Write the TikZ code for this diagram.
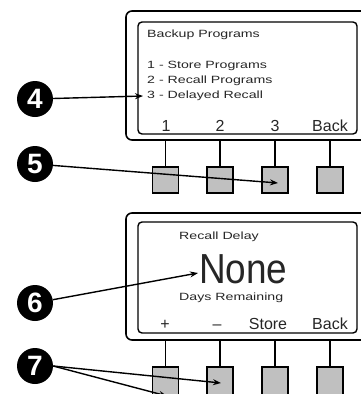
\documentclass[tikz,border=0pt]{standalone}
\usepackage{fontspec}
\usepackage{xcolor}
\usepackage{tikz}
\usetikzlibrary{arrows.meta}
\setmainfont{Liberation Sans}
\newfontfamily\lcdfont[FakeStretch=1.35]{Liberation Sans}
\newfontfamily\bigfont[FakeStretch=0.88]{Liberation Sans}
\definecolor{KeyGray}{HTML}{C0C0C0}
\definecolor{LcdInk}{HTML}{262626}
\tikzset{
  callout/.style={circle,fill=black,inner sep=0pt,minimum size=36pt,text=white,
    font=\fontsize{28}{28}\selectfont\bfseries},
  pointer/.style={line width=1.4pt,-{Stealth[length=8pt,width=6pt]}},
  keypad/.style={draw,line width=1.2pt,fill=KeyGray,minimum width=26pt,minimum height=26pt,inner sep=0pt},
  lcdtext/.style={anchor=base west,inner sep=0pt,text=LcdInk,font=\lcdfont\fontsize{10.5}{10.5}\selectfont},
  softkey/.style={anchor=base,inner sep=0pt,text=LcdInk,font=\fontsize{16}{16}\selectfont},
}

\begin{document}
\begin{tikzpicture}[x=1pt,y=-1pt]
\path[use as bounding box] (0,0) rectangle (361,394);
\clip (0,0) rectangle (361,394);
% upper display
\draw[line width=1.6pt,rounded corners=6pt] (126,11) rectangle (370,140);
\draw[line width=1.4pt,rounded corners=4pt] (138,22) rectangle (357,134);
\node[lcdtext] (title) at (147,37) {Backup Programs};
\node[lcdtext] (item1) at (147,68) {1 - Store Programs};
\node[lcdtext] (item2) at (147,83) {2 - Recall Programs};
\node[lcdtext] (item3) at (147,98) {3 - Delayed Recall};
\node[softkey] (s1) at (166,131) {1};
\node[softkey] (s2) at (220,131) {2};
\node[softkey] (s3) at (275,131) {3};
\node[softkey] (s4) at (330,131) {Back};
% upper keys
\foreach \k/\x in {1/165.5,2/220,3/275,4/330}{
  \node[keypad] (kT\k) at (\x,180) {};
  \draw[line width=1.2pt] (\x,140) -- (kT\k.north);
}
% lower display
\draw[line width=1.6pt,rounded corners=6pt] (126,213) rectangle (370,340);
\draw[line width=1.4pt,rounded corners=4pt] (138,222) rectangle (357,333);
\node[lcdtext] (head) at (179,239) {Recall Delay};
\node[anchor=base west,inner sep=0pt,text=LcdInk,font=\bigfont\fontsize{42}{42}\selectfont] (none) at (199,283) {None};
\node[lcdtext] (days) at (179,300) {Days Remaining};
\node[softkey] (p1) at (165,329) {+};
\node[softkey] (p2) at (217,329) {--};
\node[softkey] (p3) at (268,329) {Store};
\node[softkey] (p4) at (330,329) {Back};
% lower keys
\foreach \k/\x in {1/165.5,2/220,3/275,4/330}{
  \node[keypad,minimum height=34pt] (kB\k) at (\x,384) {};
  \draw[line width=1.2pt] (\x,340) -- (kB\k.north);
}
% callouts
\node[callout] (c4) at (35,99) {4};
\node[callout] (c5) at (35,164) {5};
\node[callout] (c6) at (35,303) {6};
\node[callout] (c7) at (35,366) {7};
\coordinate (t4) at (143,96);
\coordinate (t5) at (278,183);
\coordinate (t6) at (198,273);
\coordinate (t7a) at (221,383);
\coordinate (t7b) at (167,396);
\draw[pointer] (c4) -- (t4);
\draw[pointer] (c5) -- (t5);
\draw[pointer] (c6) -- (t6);
\draw[pointer] (c7.east) -- (t7a);
\draw[pointer] (c7.east) -- (t7b);
\end{tikzpicture}
\end{document}
